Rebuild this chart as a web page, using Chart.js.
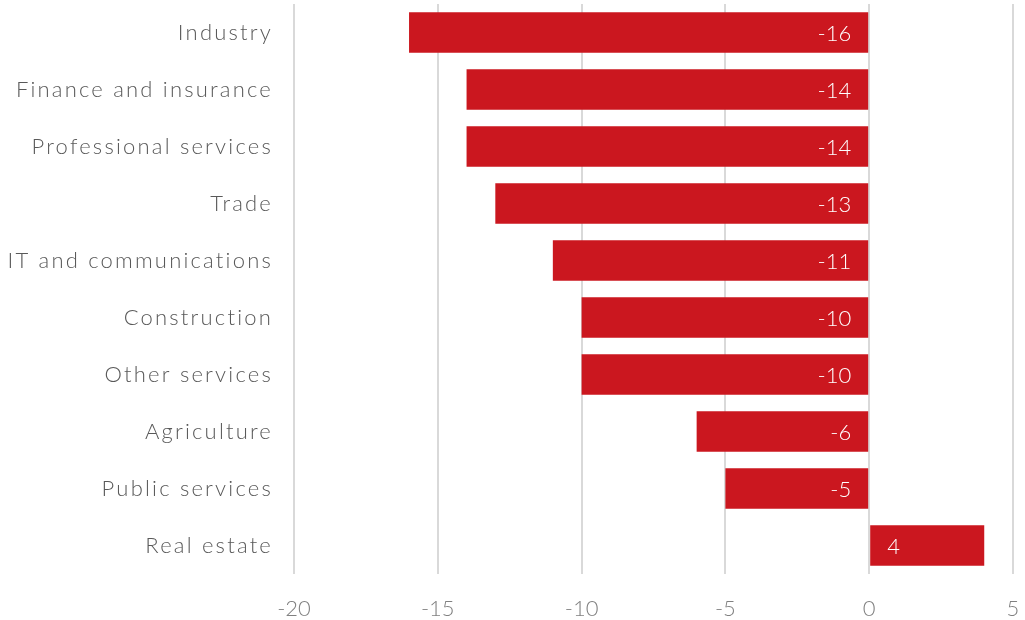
<!DOCTYPE html>
<html>
<head>
<meta charset="utf-8">
<script src="https://cdn.jsdelivr.net/npm/chart.js@4/dist/chart.umd.min.js"></script>
<style>
  html, body { margin: 0; padding: 0; background: #fff; }
  #wrap { width: 1025px; height: 620px; }
</style>
</head>
<body>
<div id="wrap"><canvas id="chart"></canvas></div>
<script>
"use strict";
const sectors = [
    "Industry", "Finance and insurance", "Professional services", "Trade",
    "IT and communications", "Construction", "Other services", "Agriculture",
    "Public services", "Real estate"
];
const changes = [-16, -14, -14, -13, -11, -10, -10, -6, -5, 4];
const xTicks = [-20, -15, -10, -5, 0, 5];

const FONT = "Lato, 'Open Sans', sans-serif";

// sector names are drawn by hand so they can be letter-spaced
const sectorLabels = {
    id: "sectorLabels",
    afterDraw(chart) {
        const ctx = chart.ctx;
        const y = chart.scales.y;
        ctx.save();
        ctx.font = "300 22px " + FONT;
        ctx.letterSpacing = "2.2px";
        ctx.fillStyle = "#595959";
        ctx.textAlign = "right";
        ctx.textBaseline = "middle";
        sectors.forEach((name, i) => {
            ctx.fillText(name, y.right - 21, y.getPixelForValue(i));
        });
        ctx.restore();
    }
};

// value labels sit inside each bar, next to the zero line
const barLabels = {
    id: "barLabels",
    afterDatasetsDraw(chart) {
        const ctx = chart.ctx;
        const meta = chart.getDatasetMeta(0);
        ctx.save();
        ctx.font = "300 22px " + FONT;
        ctx.fillStyle = "#ffffff";
        ctx.textBaseline = "middle";
        meta.data.forEach((bar, i) => {
            const v = changes[i];
            if (v < 0) {
                ctx.textAlign = "right";
                ctx.fillText(String(v), bar.base - 17, bar.y + 1);
            } else {
                ctx.textAlign = "left";
                ctx.fillText(String(v), bar.base + 17, bar.y + 1);
            }
        });
        ctx.restore();
    }
};

new Chart(document.getElementById("chart"), {
    type: "bar",
    data: {
        labels: sectors,
        datasets: [{
            data: changes,
            backgroundColor: "#cb171f",
            borderWidth: 0,
            barPercentage: 0.71,
            categoryPercentage: 1
        }]
    },
    options: {
        indexAxis: "y",
        responsive: true,
        maintainAspectRatio: false,
        animation: false,
        layout: { autoPadding: false, padding: { top: 4, right: 12, left: 0, bottom: 0 } },
        plugins: { legend: { display: false }, tooltip: { enabled: false } },
        scales: {
            x: {
                min: xTicks[0],
                max: xTicks[xTicks.length - 1],
                afterBuildTicks: (scale) => { scale.ticks = xTicks.map((v) => ({ value: v })); },
                afterFit: (scale) => {
                    scale.height = 46;
                    scale.paddingLeft = 0;
                    scale.paddingRight = 0;
                },
                border: { display: false },
                grid: { color: "#d9d9d9", lineWidth: 2, drawTicks: false },
                ticks: {
                    padding: 22,
                    color: "#808080",
                    font: { family: FONT, size: 22, weight: 300 }
                }
            },
            y: {
                afterFit: (scale) => { scale.width = 294; },
                border: { display: false },
                grid: { display: false, drawTicks: false },
                ticks: { display: false }
            }
        }
    },
    plugins: [barLabels, sectorLabels]
});
</script>
</body>
</html>
